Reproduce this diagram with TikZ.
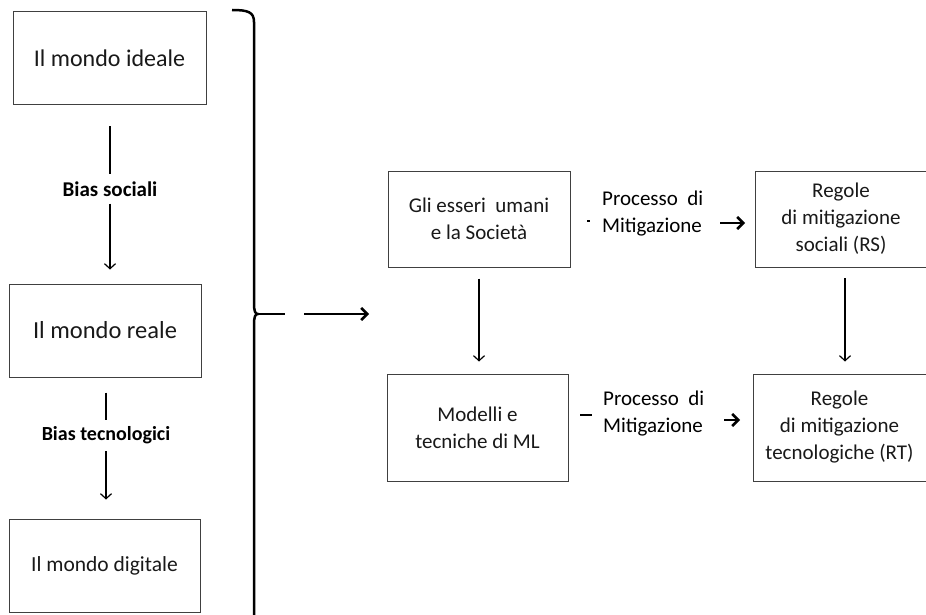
\documentclass[tikz,border=0pt]{standalone}
\usepackage{fontspec}
\setmainfont{Carlito}
\usetikzlibrary{arrows.meta}
\begin{document}
\begin{tikzpicture}[x=1pt,y=-1pt,
 box/.style={draw=black!75, line width=1pt, inner sep=0pt, align=center, text=black!90},
 big/.style={font=\fontsize{24}{28}\selectfont},
 mid/.style={font=\fontsize{21}{27}\selectfont},
 lbl/.style={fill=white, inner xsep=2pt, inner ysep=7pt},
 proc/.style={font=\fontsize{21}{27}\selectfont, align=left, anchor=west, inner sep=0pt},
 thinarrow/.style={line width=1.2pt, -{Straight Barb[length=5pt,width=11pt]}},
 thinline/.style={line width=1.2pt},
 thickarrow/.style={line width=2.6pt, -{Straight Barb[length=6pt,width=12pt]}},
]
\useasboundingbox (0,0) rectangle (926,615);
\fill[white] (0,0) rectangle (926,615);

% left column
\node[box,big,minimum width=193pt,minimum height=93pt] (ideale) at (109.5,58.5) {Il mondo ideale};
\node[box,big,font=\fontsize{24.5}{28}\selectfont,minimum width=192pt,minimum height=93pt] (reale) at (105,330.5) {Il mondo reale};
\node[box,font=\fontsize{21.5}{26}\selectfont,minimum width=191pt,minimum height=93pt] (digitale) at (104.5,565.5) {Il mondo digitale};

\node[lbl,font=\fontsize{21}{24}\selectfont\bfseries] (bs) at (110,189) {Bias sociali};
\node[lbl,font=\fontsize{20}{24}\selectfont\bfseries] (bt) at (106,435.5) {Bias tecnologici};

\draw[thinline, shorten <=21pt] (ideale.south -| bs) -- (bs.north);
\draw[thinarrow, shorten >=14pt] (bs.south) -- (bs |- reale.north);
\draw[thinline, shorten <=15pt] (reale.south -| bt) -- (bt.north);
\draw[thinarrow, shorten >=19pt] (bt.south) -- (bt |- digitale.north);

% brace
\coordinate (brtip) at (258,314);
\coordinate (brend) at (285,314);
\draw[line width=2.5pt] (232,10) .. controls (248,10) and (254,12) .. (254,22) -- (254,303)
  .. controls (254,311) and (255,314) .. (brtip)
  .. controls (255,314) and (254,317) .. (254,325) -- (254,617);
\draw[line width=2.5pt] (brtip) -- (brend);

% big arrow
\coordinate (ba1) at (304,314);
\coordinate (ba2) at (369,314);
\draw[thickarrow] (ba1) -- (ba2);

% right part
\node[box,mid,minimum width=182pt,minimum height=96pt] (gli) at (479,219) {Gli esseri\ \ umani\\e la Società};
\node[box,mid,minimum width=172pt,minimum height=96pt] (rs) at (841,219) {Regole\\di mitigazione\\sociali (RS)};
\node[box,mid,minimum width=181pt,minimum height=107pt] (ml) at (477.5,427.5) {Modelli e\\tecniche di ML};
\node[box,mid,minimum width=173pt,minimum height=107pt] (rt) at (839.5,427.5) {Regole\\di mitigazione\\tecnologiche (RT)};

\node[proc] (p1) at (602,214) {Processo\ \ di\\Mitigazione};
\node[proc] (p2) at (603,413.5) {Processo\ \ di\\Mitigazione};

% small marks
\coordinate (d1a) at (587,221);
\coordinate (d1b) at (590,221);
\draw[line width=2.4pt] (d1a) -- (d1b);
\coordinate (d2a) at (580,415);
\coordinate (d2b) at (592,415);
\draw[line width=2.6pt] (d2a) -- (d2b);

% small thick arrows
\coordinate (s1a) at (720,223);
\coordinate (s1b) at (745,223);
\draw[thickarrow] (s1a) -- (s1b);
\coordinate (s2a) at (724,420);
\coordinate (s2b) at (740,420);
\draw[thickarrow] (s2a) -- (s2b);

% vertical arrows right
\draw[thinarrow, shorten <=11pt, shorten >=12pt] (gli.south) -- (gli.south |- ml.north);
\coordinate (rsx) at (845,267);
\draw[thinarrow, shorten <=11pt, shorten >=12pt] (rsx) -- (rsx |- rt.north);
\end{tikzpicture}
\end{document}
